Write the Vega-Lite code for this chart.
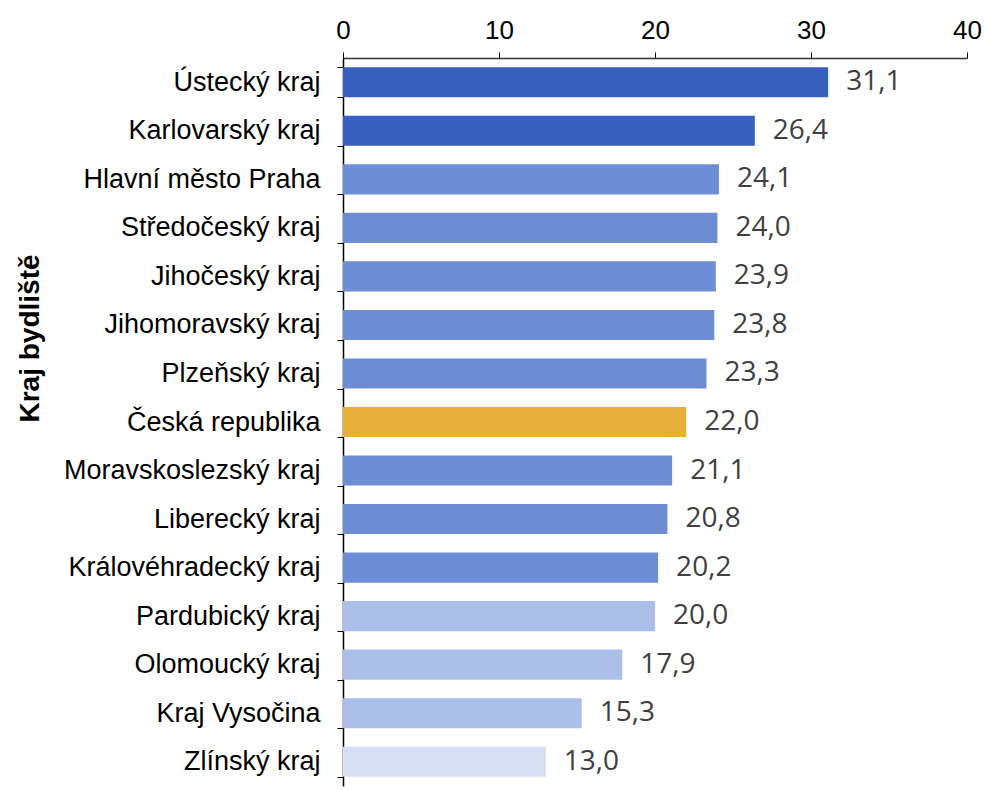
{
  "$schema": "https://vega.github.io/schema/vega-lite/v6.json",
  "width": 624,
  "height": 728,
  "autosize": "none",
  "padding": {"left": 343, "top": 58, "right": 17, "bottom": 4},
  "background": "white",
  "config": {
    "view": {"stroke": null},
    "locale": {"number": {"decimal": ",", "thousands": " ", "grouping": [3], "currency": ["", " Kč"]}}
  },
  "data": {
    "values": [
      {"kraj": "Ústecký kraj", "hodnota": 31.1, "skupina": "A"},
      {"kraj": "Karlovarský kraj", "hodnota": 26.4, "skupina": "A"},
      {"kraj": "Hlavní město Praha", "hodnota": 24.1, "skupina": "B"},
      {"kraj": "Středočeský kraj", "hodnota": 24.0, "skupina": "B"},
      {"kraj": "Jihočeský kraj", "hodnota": 23.9, "skupina": "B"},
      {"kraj": "Jihomoravský kraj", "hodnota": 23.8, "skupina": "B"},
      {"kraj": "Plzeňský kraj", "hodnota": 23.3, "skupina": "B"},
      {"kraj": "Česká republika", "hodnota": 22.0, "skupina": "C"},
      {"kraj": "Moravskoslezský kraj", "hodnota": 21.1, "skupina": "B"},
      {"kraj": "Liberecký kraj", "hodnota": 20.8, "skupina": "B"},
      {"kraj": "Královéhradecký kraj", "hodnota": 20.2, "skupina": "B"},
      {"kraj": "Pardubický kraj", "hodnota": 20.0, "skupina": "D"},
      {"kraj": "Olomoucký kraj", "hodnota": 17.9, "skupina": "D"},
      {"kraj": "Kraj Vysočina", "hodnota": 15.3, "skupina": "D"},
      {"kraj": "Zlínský kraj", "hodnota": 13.0, "skupina": "E"}
    ]
  },
  "encoding": {
    "y": {
      "field": "kraj",
      "type": "nominal",
      "sort": null,
      "scale": {"paddingInner": 0.38, "paddingOuter": 0.19},
      "axis": {
        "title": "Kraj bydliště",
        "titleFont": "Liberation Sans",
        "titleFontSize": 28,
        "titleFontWeight": "bold",
        "titleColor": "#000000",
        "titleX": -313,
        "titleY": 280,
        "titleAngle": -90,
        "titleAlign": "center",
        "titleBaseline": "middle",
        "labelFont": "Liberation Sans",
        "labelFontSize": 27,
        "labelColor": "#000000",
        "labelPadding": 17,
        "labelLimit": 400,
        "tickSize": 6,
        "tickBand": "extent",
        "tickColor": "#000000",
        "domainColor": "#000000",
        "domainWidth": 1.5
      }
    },
    "x": {
      "field": "hodnota",
      "type": "quantitative",
      "scale": {"domain": [0, 40]},
      "axis": {
        "orient": "top",
        "values": [0, 10, 20, 30, 40],
        "title": null,
        "grid": false,
        "labelFont": "Liberation Sans",
        "labelFontSize": 26,
        "labelColor": "#000000",
        "labelPadding": 9,
        "labelFlush": false,
        "tickSize": 6,
        "tickColor": "#000000",
        "domainColor": "#333333",
        "domainWidth": 1.5
      }
    }
  },
  "layer": [
    {
      "mark": {"type": "bar"},
      "encoding": {
        "color": {
          "field": "skupina",
          "type": "nominal",
          "scale": {"domain": ["A", "B", "C", "D", "E"], "range": ["#3A60BF", "#6D8ED4", "#E8AE3A", "#ABBFE8", "#D5DEF2"]},
          "legend": null
        }
      }
    },
    {
      "mark": {"type": "text", "align": "left", "baseline": "middle", "dx": 18, "font": "Open Sans", "fontSize": 28, "color": "#404040"},
      "encoding": {
        "text": {"field": "hodnota", "type": "quantitative", "format": ".1f"}
      }
    }
  ]
}
